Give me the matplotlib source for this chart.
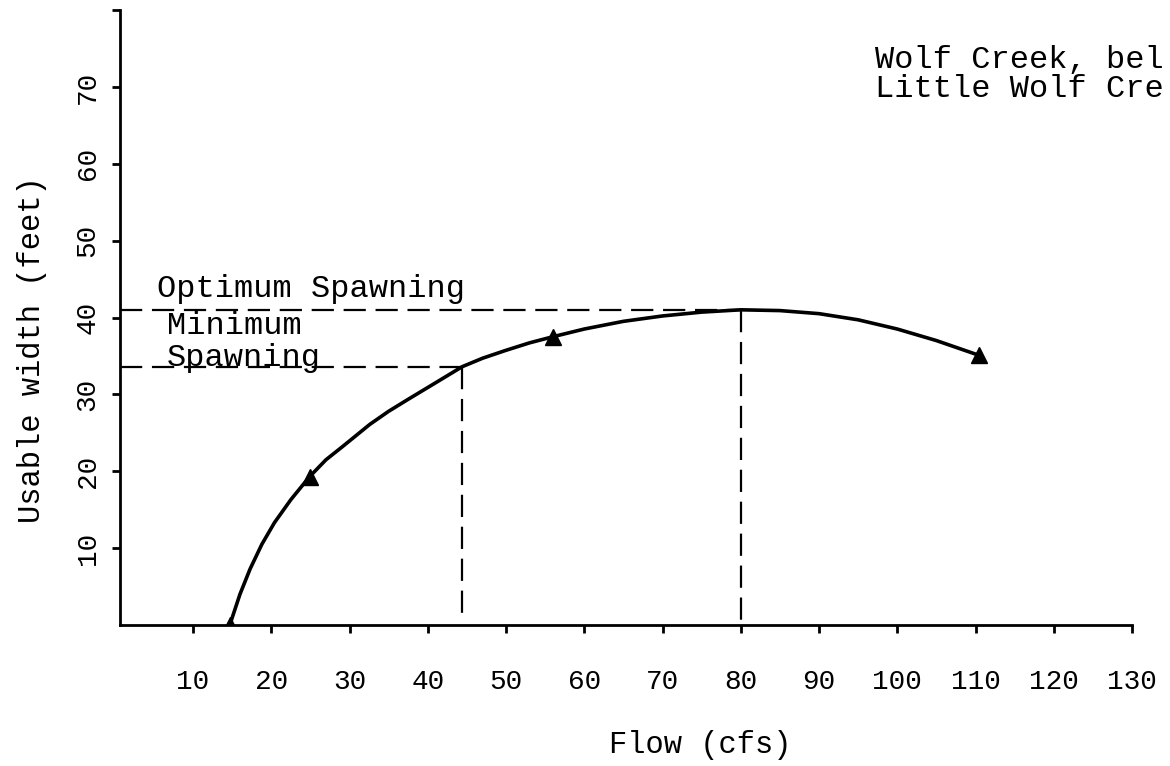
import matplotlib
matplotlib.use("Agg")
import matplotlib.pyplot as plt

# ---- data ----
curve_flow  = [14.7, 16.0, 17.3, 18.8, 20.4, 22.5, 24.9, 27.0, 29.1, 32.6, 35.0, 37.4, 40.5, 44.4,
               47.0, 49.9, 53.0, 56.0, 60.0, 65.0, 70.0, 75.0, 80.0, 85.0, 90.0, 95.0, 100.0, 105.0, 110.4]
curve_width = [0.0, 4.0, 7.3, 10.5, 13.3, 16.3, 19.3, 21.5, 23.2, 26.1, 27.8, 29.3, 31.2, 33.6,
               34.7, 35.7, 36.7, 37.5, 38.5, 39.5, 40.2, 40.7, 41.0, 40.9, 40.5, 39.7, 38.5, 37.0, 35.1]
marker_flow  = [14.7, 24.9, 56.0, 110.4]
marker_width = [0.0, 19.3, 37.5, 35.1]
optimum_flow, optimum_width = 80.0, 41.0
minimum_flow, minimum_width = 44.4, 33.6
x_ticks = [10, 20, 30, 40, 50, 60, 70, 80, 90, 100, 110, 120, 130]
y_ticks = [10, 20, 30, 40, 50, 60, 70, 80]
y_tick_labels = ["10", "20", "30", "40", "50", "60", "70", ""]

plt.rcParams['font.family'] = ['Liberation Mono', 'DejaVu Sans Mono']
plt.rcParams['lines.scale_dashes'] = False

W, H = 1170, 766
fig = plt.figure(figsize=(W / 100, H / 100), dpi=100)
ax = fig.add_axes([120 / W, 1 - 625 / H, (1132 - 120) / W, (625 - 10) / H])

ax.plot(curve_flow, curve_width, color='black', lw=2.6, solid_capstyle='round', solid_joinstyle='round')
ax.plot(marker_flow, marker_width, linestyle='none', marker='^', color='black', markersize=11)

dash = (16, 7)
ax.plot([0.67, optimum_flow], [optimum_width, optimum_width], color='black', lw=1.6, dashes=dash)
ax.plot([optimum_flow, optimum_flow], [optimum_width, 0], color='black', lw=1.6, dashes=dash)
ax.plot([0.67, minimum_flow], [minimum_width, minimum_width], color='black', lw=1.6, dashes=dash)
ax.plot([minimum_flow, minimum_flow], [minimum_width, 1.5], color='black', lw=1.6, dashes=dash)

ax.set_xlim(0.67, 130)
ax.set_ylim(0, 80)
for s in ['top', 'right']:
    ax.spines[s].set_visible(False)
for s in ['left', 'bottom']:
    ax.spines[s].set_linewidth(2.0)

ax.set_xticks(x_ticks)
ax.set_xticklabels([str(v) for v in x_ticks])
ax.set_yticks(y_ticks)
ax.set_yticklabels(y_tick_labels, rotation=90, va='center')
ax.tick_params(axis='x', direction='out', length=6, width=2, labelsize=20, pad=26)
ax.tick_params(axis='y', direction='out', length=6, width=2, labelsize=20, pad=8)

def px(x, y):
    return x / W, 1 - y / H

fig.text(*px(700, 745), "Flow (cfs)", fontsize=22, ha='center', va='center')
fig.text(*px(32, 350), "Usable width (feet)", fontsize=22, ha='center', va='center', rotation=90)

fig.text(*px(157, 297), "Optimum Spawning", fontsize=23, va='baseline', ha='left')
fig.text(*px(167, 334), "Minimum", fontsize=23, va='baseline', ha='left')
fig.text(*px(167, 366), "Spawning", fontsize=23, va='baseline', ha='left')
fig.text(*px(875, 68), "Wolf Creek, bel", fontsize=23, va='baseline', ha='left')
fig.text(*px(875, 97), "Little Wolf Cre", fontsize=23, va='baseline', ha='left')

fig.savefig("out.png", dpi=100)
